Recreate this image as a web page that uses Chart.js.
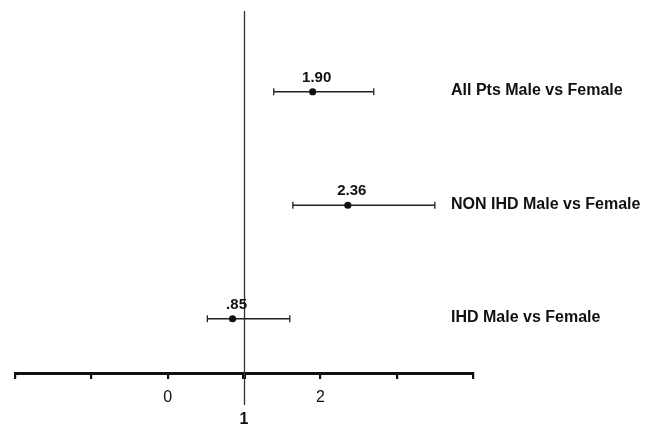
<!DOCTYPE html>
<html><head><meta charset="utf-8">
<script src="https://cdn.jsdelivr.net/npm/chart.js@4"></script>
<style>html,body{margin:0;padding:0;background:#fff}#wrap{width:651px;height:426px}</style>
</head><body><div id="wrap"><canvas id="c" width="651" height="426"></canvas></div>
<script>
const categories = ['All Pts Male vs Female', 'NON IHD Male vs Female', 'IHD Male vs Female'];
const rows = [3, 2, 1];
const estimates = [1.90, 2.36, 0.85];
const estimateLabels = ['1.90', '2.36', '.85'];
const lower = [1.39, 1.64, 0.52];
const upper = [2.70, 3.50, 1.60];
const xTicks = [-2, -1, 0, 1, 2, 3, 4];
const xTickLabels = ['', '', '0', '1', '2', '', ''];
const refValue = 1;

const ink = '#111';
const ciSets = categories.map((c, i) => ({
  type: 'line',
  data: [{x: lower[i], y: rows[i]}, {x: upper[i], y: rows[i]}],
  borderColor: '#222', borderWidth: 1.3,
  pointStyle: 'line', pointRotation: 90, pointRadius: 3.5,
  pointBorderColor: '#222', pointBorderWidth: 1.3,
  showLine: true, fill: false, order: 2
}));
const estSet = {
  type: 'scatter',
  data: estimates.map((v, i) => ({x: v, y: rows[i]})),
  pointRadius: 3.6, pointBackgroundColor: ink, pointBorderColor: ink, pointBorderWidth: 0, order: 1
};

const annot = {
  id: 'annot',
  beforeDatasetsDraw(chart) {
    const {ctx, scales: {x}, chartArea} = chart;
    const px = Math.round(x.getPixelForValue(refValue)) + 0.5;
    ctx.save();
    ctx.strokeStyle = '#333'; ctx.lineWidth = 1.3;
    ctx.beginPath(); ctx.moveTo(px, chartArea.top + 1); ctx.lineTo(px, chartArea.bottom + 32); ctx.stroke();
    ctx.restore();
  },
  afterDatasetsDraw(chart) {
    const {ctx, scales: {x, y}} = chart;
    ctx.save();
    ctx.fillStyle = ink;
    ctx.font = 'bold 15px "Liberation Sans", Arial, sans-serif';
    ctx.textAlign = 'center'; ctx.textBaseline = 'middle';
    estimates.forEach((v, i) => {
      ctx.fillText(estimateLabels[i], x.getPixelForValue(v) + 4, y.getPixelForValue(rows[i]) - 14);
    });
    ctx.font = 'bold 16px "Liberation Sans", Arial, sans-serif';
    ctx.textAlign = 'left';
    categories.forEach((c, i) => {
      ctx.fillText(c, chart.chartArea.right - 22, y.getPixelForValue(rows[i]) - 1);
    });
    ctx.restore();
  }
};

new Chart(document.getElementById('c'), {
  data: {datasets: [...ciSets, estSet]},
  options: {
    responsive: false, animation: false, devicePixelRatio: 1,
    layout: {padding: {left: 15, right: 178, top: 10, bottom: 0}},
    plugins: {legend: {display: false}, tooltip: {enabled: false}},
    scales: {
      x: {
        type: 'linear', min: -2, max: 4,
        afterBuildTicks: s => { s.ticks = xTicks.map(v => ({value: v})); },
        afterFit: s => { s.height = 53; },
        border: {display: true, color: ink, width: 3},
        grid: {drawOnChartArea: false, drawTicks: true, tickLength: 6, color: ink,
               lineWidth: c => (c.tick && c.tick.value === refValue) ? 4 : 2.2},
        ticks: {
          color: ink, padding: 8, autoSkip: false, maxRotation: 0,
          font: c => ({family: '"Liberation Sans", Arial, sans-serif', size: 16,
                       weight: (c.tick && c.tick.value === refValue) ? 'bold' : 'normal', lineHeight: '22px'}),
          callback: (v) => {
            const i = xTicks.indexOf(v);
            const t = i >= 0 ? xTickLabels[i] : '';
            return v === refValue ? ['', t] : t;
          }
        }
      },
      y: {type: 'linear', display: false, min: 0.522, max: 3.72}
    }
  },
  plugins: [annot]
});
</script></body></html>
